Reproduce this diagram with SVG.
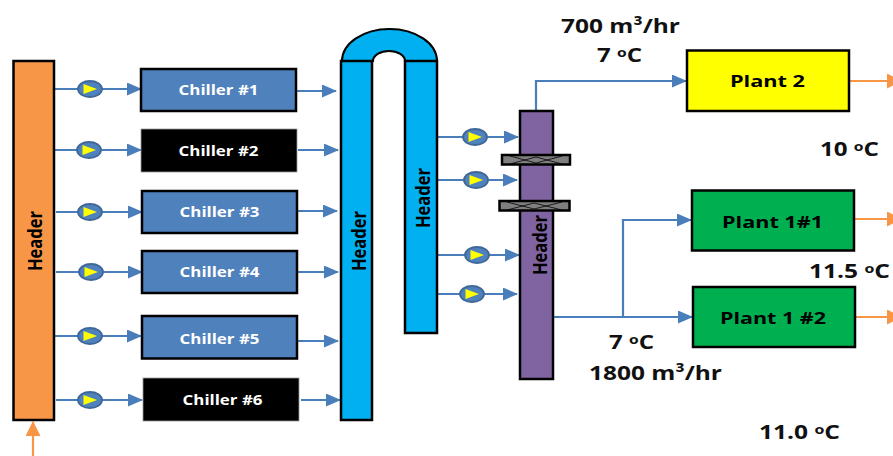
<svg xmlns="http://www.w3.org/2000/svg" width="893" height="456" viewBox="0 0 893 456">
<style>
.box{stroke:#000;stroke-width:2.500}
.ch{fill:#4f81bd}.bk{fill:#000;stroke:#999;stroke-width:.8}
.cht{font:bold 14.500px "Open Sans",sans-serif;fill:#fff;text-anchor:middle}
.pt{font:bold 16px "Open Sans",sans-serif;fill:#000}
.lb{font:bold 20px "Open Sans",sans-serif;fill:#111}
.sup{font-size:13px}
.hd{font:bold 19px "Open Sans",sans-serif;fill:#000}
.b{stroke:#4a7ebb;stroke-width:2.200;fill:none;marker-end:url(#ab)}
.o{stroke:#f79646;stroke-width:2.200;fill:none;marker-end:url(#ao)}
</style>
<defs>
<marker id="ab" markerUnits="userSpaceOnUse" markerWidth="15" markerHeight="13" refX="14" refY="6.500" orient="auto"><path d="M0 0L15 6.500L0 13Z" fill="#4a7ebb"/></marker>
<marker id="ao" markerUnits="userSpaceOnUse" markerWidth="15" markerHeight="15" refX="14" refY="7.500" orient="auto"><path d="M0 0L15 7.500L0 15Z" fill="#f79646"/></marker>
<g id="pump"><ellipse rx="12" ry="8" fill="#4f81bd" stroke="#3f6797" stroke-width="1.800"/><path d="M-6.500 -5L7 0L-6.500 5Z" fill="#ff0"/></g>
</defs>
<rect width="893" height="456" fill="#fff"/>
<g id="connectors">
<path class="b" d="M54 89H141"/><path class="b" d="M54 150H141"/><path class="b" d="M56 212H142"/><path class="b" d="M56 272H142"/><path class="b" d="M54 336H141"/><path class="b" d="M56 400H142"/>
<path class="b" d="M297 91H336"/><path class="b" d="M298 150H338"/><path class="b" d="M298 211H337"/><path class="b" d="M298 272H338"/><path class="b" d="M298 341H338"/><path class="b" d="M301 400H340"/>
<path class="b" d="M438 137H518"/><path class="b" d="M438 180H517"/><path class="b" d="M438 255H519"/><path class="b" d="M438 294H517"/>
<path class="b" d="M536 111V81H686"/>
<path class="b" d="M554 317H692"/>
<path class="b" d="M623 317V220H691"/>
<path class="o" d="M850 81H901"/><path class="o" d="M855 219H901"/><path class="o" d="M856 317H901"/>
<path class="o" d="M33 456V422"/>
</g>
<g id="header-1"><rect class="box" x="13.500" y="61" width="40.500" height="359" fill="#f79646"/><text class="hd" transform="translate(42 271) rotate(-90)" textLength="60" lengthAdjust="spacingAndGlyphs">Header</text></g>
<g id="pumps">
<use href="#pump" x="90" y="89"/><use href="#pump" x="89" y="150"/><use href="#pump" x="90" y="212"/><use href="#pump" x="91" y="272"/><use href="#pump" x="90" y="336"/><use href="#pump" x="90" y="400"/>
<use href="#pump" x="475" y="137"/><use href="#pump" x="476" y="180"/><use href="#pump" x="477" y="255"/><use href="#pump" x="472" y="294"/>
</g>
<g id="chiller-1"><rect class="box ch" x="141" y="69" width="155" height="42"/><text class="cht" x="218.500" y="95" textLength="80" lengthAdjust="spacingAndGlyphs">Chiller #1</text></g>
<g id="chiller-2"><rect class="bk" x="141" y="129" width="156" height="43"/><text class="cht" x="218.500" y="156" textLength="80" lengthAdjust="spacingAndGlyphs">Chiller #2</text></g>
<g id="chiller-3"><rect class="box ch" x="142" y="191" width="155" height="42"/><text class="cht" x="219.500" y="217" textLength="80" lengthAdjust="spacingAndGlyphs">Chiller #3</text></g>
<g id="chiller-4"><rect class="box ch" x="142" y="251" width="155" height="42"/><text class="cht" x="219.500" y="277" textLength="80" lengthAdjust="spacingAndGlyphs">Chiller #4</text></g>
<g id="chiller-5"><rect class="box ch" x="142" y="316" width="155" height="42.500"/><text class="cht" x="219.500" y="343.500" textLength="80" lengthAdjust="spacingAndGlyphs">Chiller #5</text></g>
<g id="chiller-6"><rect class="bk" x="143" y="378" width="156" height="43"/><text class="cht" x="222.500" y="405" textLength="80" lengthAdjust="spacingAndGlyphs">Chiller #6</text></g>
<g id="header-2">
<path d="M342 61A47.500 32 0 0 1 437 61H405A16 10 0 0 0 373 61Z" fill="#00b0f0" stroke="#000" stroke-width="2"/>
<rect class="box" x="341" y="61" width="31" height="359" fill="#00b0f0"/>
<rect class="box" x="405" y="61" width="32" height="272" fill="#00b0f0"/>
<text class="hd" transform="translate(366 271) rotate(-90)" textLength="60" lengthAdjust="spacingAndGlyphs">Header</text>
<text class="hd" transform="translate(430 228) rotate(-90)" textLength="60" lengthAdjust="spacingAndGlyphs">Header</text>
</g>
<g id="header-3">
<rect class="box" x="520" y="111" width="33" height="268" fill="#8064a2"/>
<g fill="#7f7f7f" stroke="#000" stroke-width="2.500"><rect x="502" y="155" width="68" height="9.500"/><rect x="499.500" y="201" width="70" height="9.500"/></g>
<path d="M510 156L536 163L562 156M510 164L536 157L562 164M507 202L534 209L562 202M507 210L534 203L562 210" fill="none" stroke="#000" stroke-width=".8"/>
<text class="hd" transform="translate(547 275) rotate(-90)" textLength="60" lengthAdjust="spacingAndGlyphs">Header</text>
</g>
<g id="plant-2"><rect class="box" x="687" y="50.500" width="162" height="60.500" fill="#ff0"/><text class="pt" x="730" y="87" textLength="75" lengthAdjust="spacingAndGlyphs">Plant 2</text></g>
<g id="plant-1-1"><rect class="box" x="692" y="190.500" width="162" height="60" fill="#00b050"/><text class="pt" x="722" y="227.500" textLength="101" lengthAdjust="spacingAndGlyphs">Plant 1#1</text></g>
<g id="plant-1-2"><rect class="box" x="693" y="287" width="162" height="60" fill="#00b050"/><text class="pt" x="720" y="323.500" textLength="106" lengthAdjust="spacingAndGlyphs">Plant 1 #2</text></g>
<g id="labels">
<text class="lb" x="561" y="33" textLength="119" lengthAdjust="spacingAndGlyphs">700 m³/hr</text>
<text class="lb" x="597" y="62" textLength="45" lengthAdjust="spacingAndGlyphs">7 <tspan class="sup" dy="-5">o</tspan><tspan dy="5">C</tspan></text>
<text class="lb" x="820" y="156" textLength="59" lengthAdjust="spacingAndGlyphs">10 <tspan class="sup" dy="-5">o</tspan><tspan dy="5">C</tspan></text>
<text class="lb" x="809" y="278" textLength="81" lengthAdjust="spacingAndGlyphs">11.5 <tspan class="sup" dy="-5">o</tspan><tspan dy="5">C</tspan></text>
<text class="lb" x="609" y="349" textLength="45" lengthAdjust="spacingAndGlyphs">7 <tspan class="sup" dy="-5">o</tspan><tspan dy="5">C</tspan></text>
<text class="lb" x="589" y="380" textLength="133" lengthAdjust="spacingAndGlyphs">1800 m³/hr</text>
<text class="lb" x="759" y="439" textLength="81" lengthAdjust="spacingAndGlyphs">11.0 <tspan class="sup" dy="-5">o</tspan><tspan dy="5">C</tspan></text>
</g>
</svg>
